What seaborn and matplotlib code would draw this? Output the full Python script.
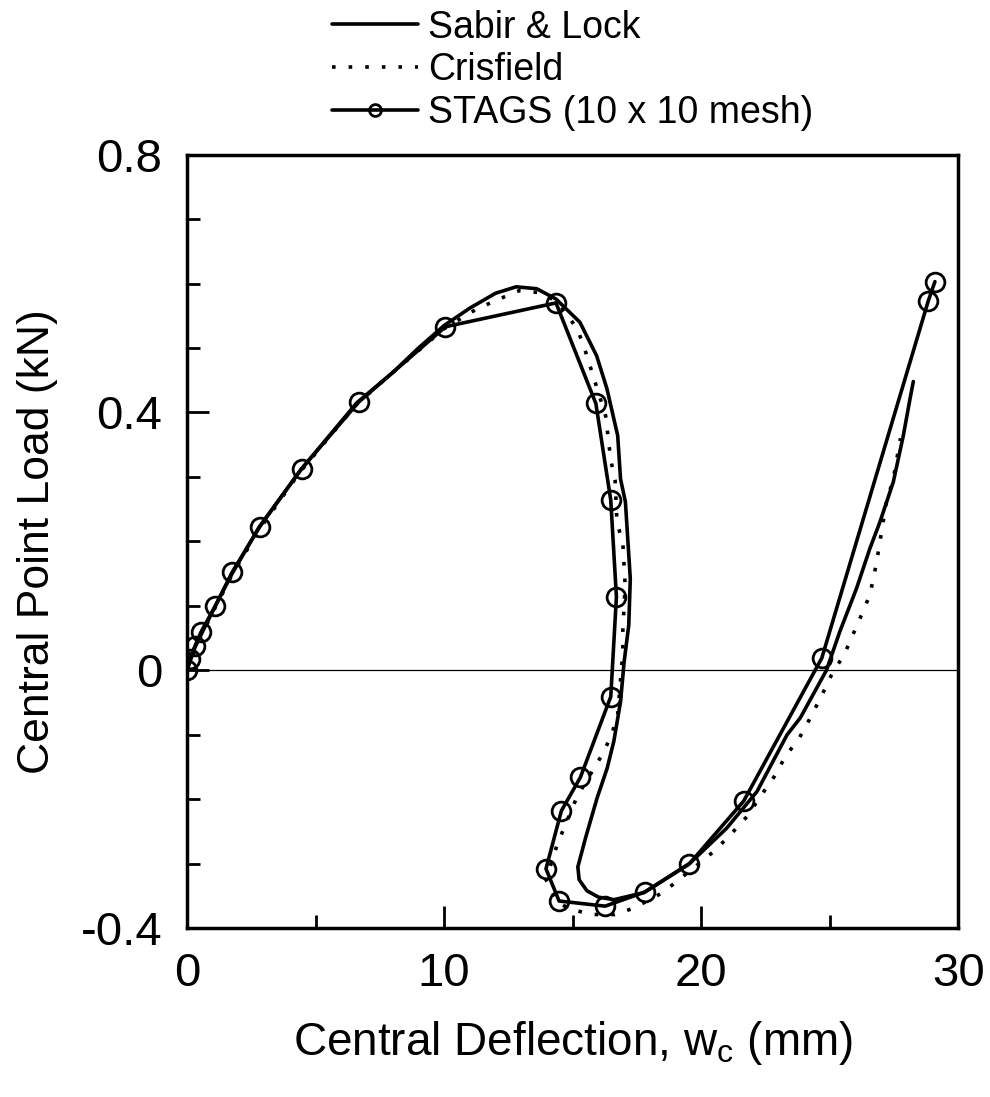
import numpy as np
import pandas as pd
import matplotlib
matplotlib.use("Agg")
import matplotlib.pyplot as plt
import seaborn as sns

# --- data ---
stags_x = [0, 0.1, 0.3, 0.55, 1.1, 1.75, 2.83, 4.46, 6.67, 10.05, 14.35, 15.9, 16.48, 16.7,
           16.48, 15.3, 14.56, 13.96, 14.47, 16.26, 17.81, 19.52, 21.65, 24.69, 28.83, 29.09]
stags_y = [0, 0.018, 0.037, 0.06, 0.1, 0.152, 0.223, 0.313, 0.416, 0.533, 0.570, 0.414, 0.264, 0.114,
           -0.041, -0.166, -0.218, -0.308, -0.358, -0.366, -0.344, -0.301, -0.203, 0.019, 0.573, 0.603]

sabir_x = [0, 0.3, 0.6, 1.1, 1.75, 2.8, 4.4, 6.6, 8.0, 9.0, 10.0, 11.0, 12.0, 12.8, 13.6, 14.35,
           15.28, 15.93, 16.33, 16.75, 16.86, 17.05, 17.24, 17.18, 17.0, 16.86, 16.6, 16.34, 15.95,
           15.5, 15.2, 15.25, 15.55, 16.0, 16.6, 17.77, 19.57, 20.99, 22.17, 23.34, 23.85, 24.87, 25.39,
           26.04, 26.56, 26.95, 27.47, 27.86, 28.12, 28.25]
sabir_y = [0, 0.035, 0.06, 0.1, 0.15, 0.222, 0.31, 0.415, 0.462, 0.5, 0.535, 0.562, 0.585, 0.595,
           0.592, 0.576, 0.540, 0.488, 0.437, 0.364, 0.297, 0.261, 0.142, 0.070, 0.013, -0.049, -0.11,
           -0.152, -0.198, -0.26, -0.305, -0.325, -0.342, -0.352, -0.356, -0.345, -0.299, -0.245, -0.188,
           -0.1, -0.074, 0.0, 0.06, 0.127, 0.189, 0.23, 0.292, 0.364, 0.421, 0.448]

cris_x = [0, 0.5, 1.1, 1.75, 2.8, 4.4, 6.6, 8.0, 10.0, 11.24, 12.14, 12.92, 13.7, 14.4, 15.19,
          15.51, 15.77, 16.28, 16.48, 16.65, 16.72, 16.95, 17.04, 16.95, 16.95, 16.75, 16.49, 16.1,
          15.17, 14.4, 13.96, 14.4, 14.93, 15.76, 16.63, 17.38, 18.5, 19.6, 20.49, 21.07, 21.78,
          22.3, 22.84, 23.27, 23.83, 24.24, 24.7, 25.07, 25.58, 26.17, 26.56, 26.8, 27.2, 27.47, 27.75]
cris_y = [0, 0.05, 0.098, 0.148, 0.218, 0.308, 0.413, 0.462, 0.53, 0.560, 0.576, 0.589, 0.586,
          0.572, 0.529, 0.493, 0.46, 0.395, 0.326, 0.295, 0.23, 0.197, 0.132, 0.062, 0.029, -0.069,
          -0.103, -0.134, -0.196, -0.27, -0.325, -0.36, -0.371, -0.379, -0.379, -0.369, -0.345,
          -0.31, -0.281, -0.258, -0.227, -0.196, -0.165, -0.134, -0.104, -0.074, -0.038, -0.007,
          0.026, 0.08, 0.117, 0.163, 0.26, 0.297, 0.36]

labels = ["Sabir & Lock", "Crisfield", "STAGS (10 x 10 mesh)"]
x_ticks = [0, 10, 20, 30]
y_ticks = [-0.4, 0, 0.4, 0.8]
y_ticklabels = ["-0.4", "0", "0.4", "0.8"]

sns.set_style("white")
plt.rcParams["font.family"] = ["Liberation Sans", "DejaVu Sans"]
plt.rcParams["mathtext.fontset"] = "custom"
plt.rcParams["mathtext.rm"] = "Liberation Sans"
plt.rcParams["text.color"] = "black"
plt.rcParams["axes.labelcolor"] = "black"

fig = plt.figure(figsize=(9.9, 10.97), dpi=100)
ax = fig.add_axes([0.189, 0.154, 0.779, 0.705])

lw = 2.6
ax.axhline(0, color="black", lw=0.9, zorder=1)

sns.lineplot(x=sabir_x, y=sabir_y, sort=False, estimator=None, ax=ax, color="black", lw=lw,
             label=labels[0])
sns.lineplot(x=cris_x, y=cris_y, sort=False, estimator=None, ax=ax, color="black", lw=lw,
             dashes=False, linestyle=(0, (1.0, 3.6)), label=labels[1])
sns.lineplot(x=stags_x, y=stags_y, sort=False, estimator=None, ax=ax, color="black", lw=lw,
             marker="o", markersize=13.5, markerfacecolor="none", markeredgecolor="black",
             markeredgewidth=2.0, label=labels[2])
ax.get_legend().remove()

ax.set_xlim(0, 30)
ax.set_ylim(-0.4, 0.8)
ax.set_xticks(x_ticks)
ax.set_yticks(y_ticks)
ax.set_yticklabels(y_ticklabels)
ax.set_xticks([5, 15, 25], minor=True)
ax.set_yticks([-0.3, -0.2, -0.1, 0.1, 0.2, 0.3, 0.5, 0.6, 0.7], minor=True)
ax.tick_params(which="both", direction="in", width=2, colors="black", labelsize=34,
               labelcolor="black", top=False, right=False, left=True, bottom=True)
ax.tick_params(which="major", length=16)
ax.tick_params(which="minor", length=9.5)
ax.tick_params(axis="y", which="major", pad=18)
ax.tick_params(axis="x", which="major", pad=17)
for s in ax.spines.values():
    s.set_linewidth(2.5)
    s.set_color("black")

ax.set_xlabel("Central Deflection, w$_\\mathregular{c}$ (mm)", fontsize=33, labelpad=17,
              color="black")
ax.set_ylabel("Central Point Load (kN)", fontsize=32, labelpad=16, color="black")

handles, lbls = ax.get_legend_handles_labels()
leg = fig.legend(handles, lbls, loc="upper left", bbox_to_anchor=(0.333, 0.993), frameon=False,
                 fontsize=27, handlelength=2.3, handletextpad=0.27, labelspacing=0.18,
                 borderpad=0.05, borderaxespad=0)
for t in leg.get_texts():
    t.set_color("black")
for h in leg.legend_handles:
    h.set_markersize(8.5)

fig.savefig("out.png", dpi=100)
